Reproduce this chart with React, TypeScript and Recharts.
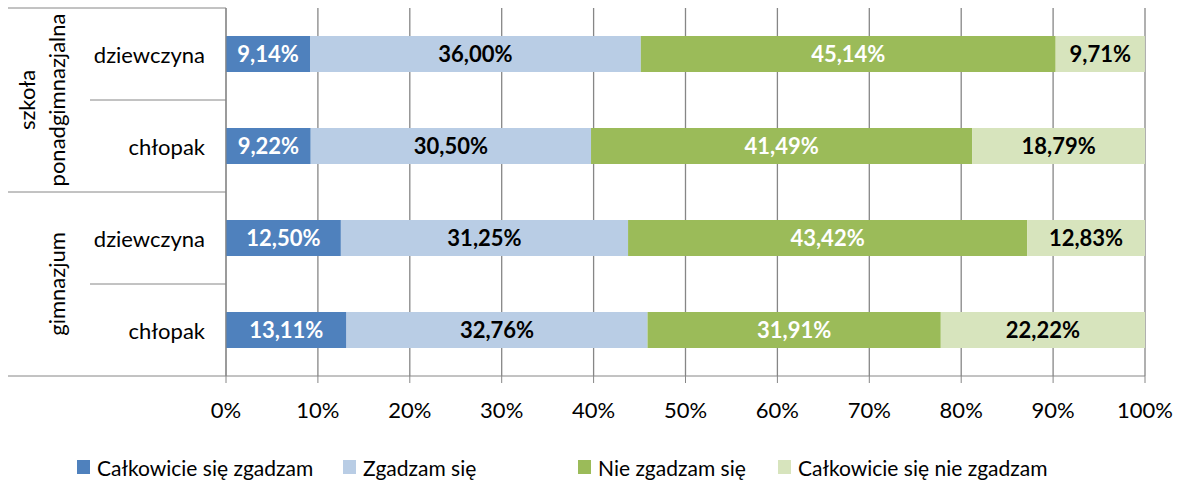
import { BarChart, Bar, XAxis, YAxis, CartesianGrid, Legend, LabelList } from 'recharts'

const groupLabels = [['szkoła', 'ponadgimnazjalna'], ['gimnazjum']]
const rowGroup = [0, 0, 1, 1]
const rowLabels = ['dziewczyna', 'chłopak', 'dziewczyna', 'chłopak']

const fullyAgree = [9.14, 9.22, 12.5, 13.11]
const agree = [36.0, 30.5, 31.25, 32.76]
const disagree = [45.14, 41.49, 43.42, 31.91]
const fullyDisagree = [9.71, 18.79, 12.83, 22.22]

const xTicks = [0, 10, 20, 30, 40, 50, 60, 70, 80, 90, 100]

const SERIES = [
  { key: 'fullyAgree', name: 'Całkowicie się zgadzam', color: '#4F81BD', text: '#ffffff' },
  { key: 'agree', name: 'Zgadzam się', color: '#B9CDE5', text: '#000000' },
  { key: 'disagree', name: 'Nie zgadzam się', color: '#9BBB59', text: '#ffffff' },
  { key: 'fullyDisagree', name: 'Całkowicie się nie zgadzam', color: '#D7E4BD', text: '#000000' },
]

const data = rowLabels.map((label, i) => ({
  row: `${rowGroup[i]}-${i}`,
  label,
  fullyAgree: fullyAgree[i],
  agree: agree[i],
  disagree: disagree[i],
  fullyDisagree: fullyDisagree[i],
}))

const W = 1181
const H = 483
const TOP = 8
const AXIS_W = 226
const X_AXIS_H = 50
const BOTTOM = 107
const PLOT_H = H - TOP - BOTTOM
const BAND = PLOT_H / data.length
const LEGEND_H = 24
const FONT = 'Lato, sans-serif'
const GRID = '#868686'
const LEGEND_X = [77, 343, 578, 778]

const pct = (v: number) => `${v.toFixed(2).replace('.', ',')}%`

function CategoryTick(props: any) {
  const { y, index } = props
  const g = rowGroup[index]
  const lastInGroup = index === data.length - 1 || rowGroup[index + 1] !== g
  const firstInGroup = index === 0 || rowGroup[index - 1] !== g
  const bottom = y + BAND / 2
  const groupRows = rowGroup.filter((r) => r === g).length
  const groupMid = y - BAND / 2 + (groupRows * BAND) / 2
  const lines = groupLabels[g]
  return (
    <g>
      <text x={205} y={y} textAnchor="end" dominantBaseline="central" fontSize={22} fontFamily={FONT} fill="#000">
        {rowLabels[index]}
      </text>
      {index === 0 && <line x1={8} x2={AXIS_W} y1={y - BAND / 2} y2={y - BAND / 2} stroke={GRID} />}
      <line x1={lastInGroup ? 8 : 90} x2={AXIS_W} y1={bottom} y2={bottom} stroke={GRID} />
      {firstInGroup &&
        lines.map((t, li) => {
          const lx = 56 - (lines.length - 1 - li) * 30
          return (
            <text
              key={t}
              x={lx}
              y={groupMid}
              transform={`rotate(-90, ${lx}, ${groupMid})`}
              textAnchor="middle"
              dominantBaseline="central"
              fontSize={22}
              fontFamily={FONT}
              fill="#000"
            >
              {t}
            </text>
          )
        })}
    </g>
  )
}

function LegendContent() {
  return (
    <div style={{ position: 'relative', width: W, height: LEGEND_H, fontFamily: FONT, fontSize: 21 }}>
      {SERIES.map((s, i) => (
        <div
          key={s.key}
          style={{ position: 'absolute', left: LEGEND_X[i], top: 0, height: LEGEND_H, display: 'flex', alignItems: 'center', whiteSpace: 'nowrap' }}
        >
          <span style={{ display: 'inline-block', width: 13, height: 14, background: s.color, marginRight: 7 }} />
          <span style={{ color: '#000' }}>{s.name}</span>
        </div>
      ))}
    </div>
  )
}

export default function App() {
  return (
    <div style={{ position: 'absolute', left: 0, top: 0, width: W, height: H, background: '#fff' }}>
      <BarChart
        width={W}
        height={H}
        data={data}
        layout="vertical"
        barSize={36}
        margin={{ top: TOP, right: 36, bottom: BOTTOM - X_AXIS_H - LEGEND_H, left: 0 }}
      >
        <CartesianGrid horizontal={false} stroke={GRID} strokeWidth={1.3} />
        <XAxis
          type="number"
          domain={[0, 100]}
          ticks={xTicks}
          interval={0}
          tickFormatter={(v: number) => `${v}%`}
          height={X_AXIS_H}
          tickSize={7}
          tickMargin={19}
          stroke={GRID}
          tick={{ fill: '#000', fontSize: 22, fontFamily: FONT }}
        />
        <YAxis
          type="category"
          dataKey="row"
          width={AXIS_W}
          tickLine={false}
          stroke={GRID}
          interval={0}
          tick={<CategoryTick />}
        />
        <Legend
          verticalAlign="bottom"
          content={<LegendContent />}
          wrapperStyle={{ top: 455, bottom: 'auto', left: 0, width: W, height: LEGEND_H }}
        />
        {SERIES.map((s) => (
          <Bar key={s.key} dataKey={s.key} name={s.name} stackId="a" fill={s.color} isAnimationActive={false}>
            <LabelList
              dataKey={s.key}
              position="center"
              formatter={(v: any) => pct(Number(v))}
              fill={s.text}
              fontSize={22}
              fontWeight={700}
              fontFamily={FONT}
            />
          </Bar>
        ))}
      </BarChart>
    </div>
  )
}
